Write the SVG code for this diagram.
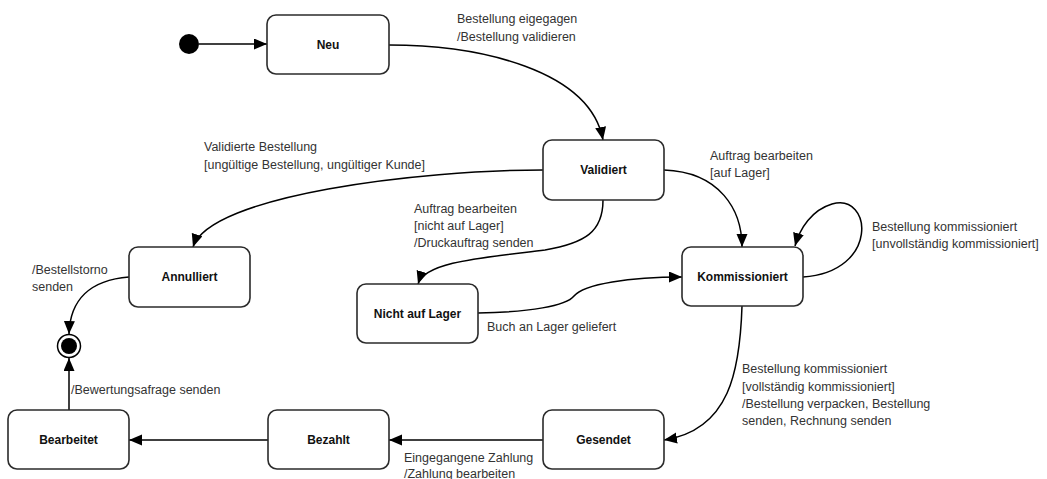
<svg xmlns="http://www.w3.org/2000/svg" width="1047" height="479" viewBox="0 0 1047 479">
<defs>
<marker id="arr" markerUnits="userSpaceOnUse" markerWidth="14" markerHeight="12" refX="13" refY="5.5" orient="auto">
<path d="M0,0 L13,5.5 L0,11 z" fill="#000"/>
</marker>
<style>
.box{fill:#fff;stroke:#2b2b2b;stroke-width:1.6}
.nl{font-family:"Liberation Sans",Arial,sans-serif;font-size:12px;font-weight:bold;fill:#111;text-anchor:middle;dominant-baseline:central}
.el{font-family:"Liberation Sans",Arial,sans-serif;font-size:12.5px;fill:#333}
.c{fill:none;stroke:#000;stroke-width:1.5;marker-end:url(#arr)}
</style>
</defs>
<rect width="1047" height="479" fill="#fff"/>
<g id="connectors">
<path class="c" d="M199,44 L267,44"/>
<path class="c" d="M389,45 C480,45 590,70 603,140"/>
<path class="c" d="M543,170 C420,170 210,195 193,247"/>
<path class="c" d="M603,200 C603,232 585,243 545,250 C480,258 425,262 418,284"/>
<path class="c" d="M664,170 C720,172 742,210 742,247"/>
<path class="c" d="M803,277 C880,272 872,192 832,204 C812,210 800,228 795,246"/>
<path class="c" d="M478,313 C530,312 566,306 574,296 C584,284 630,277 682,277"/>
<path class="c" d="M742,306 C740,370 730,430 664,440"/>
<path class="c" d="M543,440 L389,440"/>
<path class="c" d="M268,440 L129,440"/>
<path class="c" d="M69,410 L69,358"/>
<path class="c" d="M129,277 C90,280 70,300 69,334"/>
</g>
<g id="labels">
<text class="el" x="457" y="23">Bestellung eigegagen</text>
<text class="el" x="457" y="41">/Bestellung validieren</text>
<text class="el" x="204" y="151">Validierte Bestellung</text>
<text class="el" x="204" y="169">[ungültige Bestellung, ungültiger Kunde]</text>
<text class="el" x="414" y="213">Auftrag bearbeiten</text>
<text class="el" x="414" y="230">[nicht auf Lager]</text>
<text class="el" x="414" y="247">/Druckauftrag senden</text>
<text class="el" x="710" y="160">Auftrag bearbeiten</text>
<text class="el" x="710" y="177">[auf Lager]</text>
<text class="el" x="872" y="231">Bestellung kommissioniert</text>
<text class="el" x="872" y="248">[unvollständig kommissioniert]</text>
<text class="el" x="487" y="331">Buch an Lager geliefert</text>
<text class="el" x="742" y="373">Bestellung kommissioniert</text>
<text class="el" x="742" y="391">[vollständig kommissioniert]</text>
<text class="el" x="742" y="408">/Bestellung verpacken, Bestellung</text>
<text class="el" x="742" y="425">senden, Rechnung senden</text>
<text class="el" x="404" y="462">Eingegangene Zahlung</text>
<text class="el" x="404" y="478">/Zahlung bearbeiten</text>
<text class="el" x="32" y="274">/Bestellstorno</text>
<text class="el" x="32" y="291">senden</text>
<text class="el" x="71" y="394">/Bewertungsafrage senden</text>
</g>
<g id="start"><circle cx="189" cy="44" r="10" fill="#000"/></g>
<g id="end"><circle cx="69" cy="346" r="11.5" fill="#fff" stroke="#000" stroke-width="1.5"/><circle cx="69" cy="346" r="8" fill="#000"/></g>
<g id="neu"><rect class="box" x="267" y="15" width="122" height="59" rx="9"/><text class="nl" x="328" y="44.5">Neu</text></g>
<g id="validiert"><rect class="box" x="543" y="140" width="121" height="60" rx="9"/><text class="nl" x="603.5" y="170">Validiert</text></g>
<g id="annulliert"><rect class="box" x="129" y="247" width="121" height="60" rx="9"/><text class="nl" x="189.5" y="277">Annulliert</text></g>
<g id="kommissioniert"><rect class="box" x="682" y="247" width="121" height="59" rx="9"/><text class="nl" x="742.5" y="276.5">Kommissioniert</text></g>
<g id="nichtauflager"><rect class="box" x="357" y="284" width="121" height="59" rx="9"/><text class="nl" x="417.5" y="313.5">Nicht auf Lager</text></g>
<g id="bearbeitet"><rect class="box" x="8" y="410" width="121" height="59" rx="9"/><text class="nl" x="68.5" y="439.5">Bearbeitet</text></g>
<g id="bezahlt"><rect class="box" x="268" y="410" width="121" height="59" rx="9"/><text class="nl" x="328.5" y="439.5">Bezahlt</text></g>
<g id="gesendet"><rect class="box" x="543" y="410" width="121" height="59" rx="9"/><text class="nl" x="603.5" y="439.5">Gesendet</text></g>
</svg>
